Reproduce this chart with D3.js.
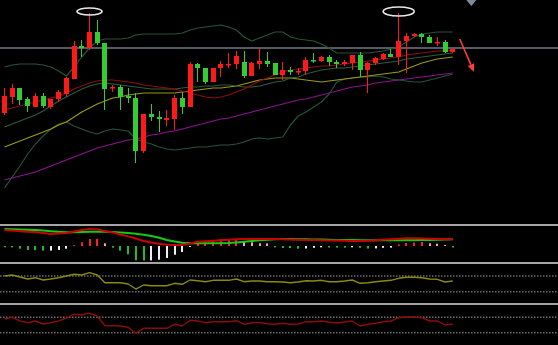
<!DOCTYPE html>
<html><head><meta charset="utf-8">
<script src="https://cdn.jsdelivr.net/npm/d3@7"></script>
<style>html,body{margin:0;padding:0;background:#000;overflow:hidden}svg{display:block}</style>
</head><body>
<svg id="chart" width="558" height="345"></svg>
<script>
// ---------- DATA ----------
const opens  = [107,123,132,121,113,124,113,121,126,141, 174,172,188,177,131.5,133,124,122,69,106, 103,100,101,122,113,156,152,138,152,155, 156,158,144,156,159,157,145,150,148,149, 160,159,163,158,156,157,165,150,157,161, 166,163,179,184,186,183,177,178,168];
const highs  = [132,136,132,123,127,127,121,130,143,179, 180,207,200,177,135,135,132,127,106,116, 109,110,125,128,158,157,152,152,159,167, 169,169,158,172,168,157,158,153,152,163, 167,164,165,160,160,165,168,158,163,167, 171,207,187,187,187,185,183,180,172];
const lows   = [105,116,115,108,113,112,111,118,123,141, 163,170,175,110,128,110,117,57,67,99, 88,94,90,106,113,138,136,138,143,152, 151,142,144,151,153,145,140,145,145,145, 157,158,154,152,154,150,143,127,155,160, 163,155,147,183,177,177,174,167,167];
const closes = [124,132,120,114,124,114,121,128,142,174, 172,188,177,131,133,123,122,69,106,103, 101,102,122,113,156,152,138,152,156,156, 164,144,157,159,156,145,150,148,149,160, 159,163,158,156,158,165,150,157,162,166, 163,179,184,186,183,177,178,168,171];

const bollUpper = [153,155,156,156,156,155,153,149,144,153, 163,172,179,181,181,181,182,185,186,186, 186,186,186,187,190,192,193,194,195,193, 190,183,179,182,185,188,188,183,181,180, 179,176,172,167,167,167,167,167,168,169, 171,173,178,183,186,187,188,188,188];
const bollMid   = [93,96,99,102,105,109,114,119,123,127, 131,134,136,137,136,135,134,133,132,131, 131,131,131,132,133,133,134,134,135,135, 134,133,133,134,136,138,139,142,143,146, 148,150,151,152,152,153,154,155,156,157, 158,159,161,162,163,164,165,166,167];
const bollLower = [32,43,54,66,76,84,91,96,98,94, 91,88,86,89,91,90,89,81,78,76, 73,71,70,71,72,73,73,74,75,75, 76,78,81,82,81,82,83,95,104,108, 113,118,126,138,141,142,143,143,144,143, 141,140,139,138,138,140,142,144,146];
const maRed     = [110,112,114,116,118,120,122,124,127,131, 134,137,139,140,140,139,138,137,135,134, 133,132,131,129,127,125,123,122,123,125, 128,131,135,139,142,145,148,150,151,152, 153,154,154,155,156,157,158,159,160,161, 162,163,165,166,167,168,169,169,170];
const maYellow  = [73,76,79,82,85,88,91,95,98,103, 108,112,116,119,122,123,125,126,127,127, 127,127,127,128,129,130,131,132,132,133, 134,136,138,140,141,142,142,142,141,140, 139,138,139,140,141,142,143,144,145,146, 147,148,151,154,157,159,161,162,163];
const maPurple  = [40,42,44,46,48,51,54,57,60,63, 66,69,72,74,76,78,80,81,83,85, 86,88,89,91,93,95,97,99,101,102, 104,106,108,110,112,114,116,118,120,121, 123,125,127,129,131,133,134,135,137,138, 139,140,141,142,143,144,145,146,147];
const priceLevel = [172];

const macdHist = [-1.3,-1.4,-2.7,-4,-4.2,-4.7,-4.6,-4,-2.7,0.8, 3.7,7,7.1,2.7,-1.7,-4.7,-8.3,-14.3,-14.5,-14.4, -13.7,-12,-8.7,-6,-1,3.7,4.3,5,6.7,7, 7.1,4.3,3.7,2.7,2.6,-1.3,-2,-2.1,-2.7,-2.5, -1.8,-1.3,-1.5,-1.6,-1.7,-1.3,-1.8,-2.5,-2.4,-1.8, -1.6,1.5,3,3.4,4,2.7,2.3,1,-1.5];
const macdDif  = [16,15.4,14.8,14.3,14,13,12,12.4,13,14.5, 16,17,16.5,15,13.5,11.5,9.6,7.5,5,3.5, 2.2,1.2,1,1,2.5,4.3,4.8,5.3,5.8,6.3, 6.7,6.9,7,7,7,6.9,6.8,6.6,6.3,6, 5.9,5.8,5.6,5.4,5.2,5,5,5.3,5.7,6.2, 6.8,7.3,7.7,7.7,7.6,7.3,7,6.8,6.7];
const macdDea  = [17,16.7,16.4,16.2,15.9,15.4,14.8,14.2,13.8,13.8, 14,14.2,14.3,14.2,13.9,13.5,13.1,12.2,11.2,10, 8.2,6,4.5,3.3,2.8,2.7,2.7,2.7,2.8,3, 3.6,4.3,5,5.7,6.3,6.8,7,6.9,6.8,6.7, 6.5,6.4,6.3,6.1,6,5.9,5.8,5.8,5.7,5.7, 5.7,5.7,5.7,5.8,5.9,6.1,6.3,6.5,6.7];

const osc1 = [80,83.8,76.2,68.5,73.5,64.7,68.5,73.5,80,86.5, 83.8,92.6,83.8,54.4,54.4,54.4,49.4,30.3,45.6,42.9, 42.9,42.9,52.1,48.3,64.7,62,58.2,63.5,63.5,63.5, 68.5,58.2,60.9,60.9,58.2,58.2,57.1,54.4,57.1,62, 60.9,63.5,58.2,58.2,60.9,64.7,52.1,54.4,58.2,60.9, 63.5,71.2,75,75,73.5,68.5,67.4,57.1,60.9];
const osc2 = [73.4,80,65.6,59,65.6,53.9,59,65.6,77.3,91.7, 89,95.6,85.1,47.3,47.3,46.1,41,17.7,37.1,37.1, 37.1,37.1,52.7,46.1,68.3,65.6,59,62.9,62.9,62.9, 66.8,52.7,59,59.7,55.1,52.7,56.6,52.7,53.9,62.9, 62.9,65.6,60.5,57.8,61.7,65.6,46.1,52.7,56.6,62.9, 65.6,78.4,81.2,82.3,78.4,65.6,65.6,50,53.9];
const oscLevels = [80, 20];

const markedCandles = [11, 51];
const arrowFrom = [58.9, 181];
const arrowTo   = [60.75, 148];

// ---------- DRAW ----------
const W = 558, H = 345;
const svg = d3.select("#chart");
svg.append("rect").attr("width", W).attr("height", H).attr("fill", "#000");

const n = closes.length;
const x = d3.scaleLinear().domain([0, n - 1]).range([4.5, 452.8]);
const y = d3.scaleLinear().domain([0, 200]).range([220, 20]);
const yMacd = d3.scaleLinear().domain([-20, 20]).range([266, 226]);
const yO1 = d3.scaleLinear().domain([20, 80]).range([291.7, 276]);
const yO2 = d3.scaleLinear().domain([20, 80]).range([332.7, 317.3]);

const UP = "#ff1a1a", DOWN = "#33cc33";

// price level line
svg.append("line").attr("x1", 0).attr("x2", W)
  .attr("y1", y(priceLevel[0])).attr("y2", y(priceLevel[0]))
  .attr("stroke", "#555b66").attr("stroke-width", 2);

// overlays
function drawLine(data, yS, color, w) {
  const line = d3.line().x((d, i) => x(i)).y(d => yS(d));
  svg.append("path").datum(data).attr("d", line)
    .attr("fill", "none").attr("stroke", color).attr("stroke-width", w)
    .attr("stroke-linejoin", "round");
}
drawLine(maPurple, y, "#8e108e", 1.2);
drawLine(bollLower, y, "#245438", 1.2);
drawLine(bollUpper, y, "#245438", 1.2);
drawLine(maYellow, y, "#9a9a12", 1.2);
drawLine(bollMid, y, "#2a5c40", 1.2);
drawLine(maRed, y, "#900c0c", 1.2);

// candles
const candles = svg.append("g");
d3.range(n).forEach(i => {
  const up = closes[i] >= opens[i];
  const col = up ? UP : DOWN;
  const x0 = Math.round(x(i) - 2.5);
  const cx = x0 + 2.5;
  candles.append("line").attr("x1", cx).attr("x2", cx)
    .attr("y1", y(highs[i])).attr("y2", y(lows[i]))
    .attr("stroke", col).attr("stroke-width", 1);
  const top = y(Math.max(opens[i], closes[i]));
  const bot = y(Math.min(opens[i], closes[i]));
  candles.append("rect").attr("x", x0).attr("width", 5)
    .attr("y", top).attr("height", Math.max(1.5, bot - top))
    .attr("fill", col);
});

// annotations: ellipses over marked highs
const ellSize = [[12.5, 3.5], [15.5, 4.5]];
markedCandles.forEach((i, k) => {
  svg.append("ellipse").attr("cx", x(i)).attr("cy", y(highs[i]) - 1.5)
    .attr("rx", ellSize[k][0]).attr("ry", ellSize[k][1])
    .attr("fill", "none").attr("stroke", "#e8e8e8").attr("stroke-width", 1.6);
});

// red arrow
const ax1 = x(arrowFrom[0]), ay1 = y(arrowFrom[1]);
const ax2 = x(arrowTo[0]), ay2 = y(arrowTo[1]);
const ang = Math.atan2(ay2 - ay1, ax2 - ax1);
const hl = 8, hw = 3.5;
const bx = ax2 - hl * Math.cos(ang), by = ay2 - hl * Math.sin(ang);
svg.append("line").attr("x1", ax1).attr("y1", ay1).attr("x2", bx).attr("y2", by)
  .attr("stroke", "#ff3b3b").attr("stroke-width", 1.6);
svg.append("path").attr("d", `M${ax2},${ay2}L${bx - hw * Math.sin(ang)},${by + hw * Math.cos(ang)}L${bx + hw * Math.sin(ang)},${by - hw * Math.cos(ang)}Z`)
  .attr("fill", "#ff3b3b");

// small marker triangle at top
const tx = x(60.4);
svg.append("path").attr("d", `M${tx - 5},0L${tx + 5},0L${tx},6Z`).attr("fill", "#7f8b99");

// panel separators
[225, 263, 304].forEach(sy => {
  svg.append("line").attr("x1", 0).attr("x2", W).attr("y1", sy).attr("y2", sy)
    .attr("stroke", "#a4a4a4").attr("stroke-width", 2);
});

// MACD histogram
d3.range(n).forEach(i => {
  const v = macdHist[i], p = i > 0 ? macdHist[i - 1] : v;
  let col;
  if (v >= 0) col = v >= p ? "#ff2020" : "#f2a6a6";
  else col = v <= p ? "#22bb22" : "#f0f0f0";
  const y0 = yMacd(0), y1 = yMacd(v);
  svg.append("rect").attr("x", Math.round(x(i)) - 1).attr("width", 2)
    .attr("y", Math.min(y0, y1)).attr("height", Math.max(1, Math.abs(y1 - y0)))
    .attr("fill", col);
});
drawLine(macdDea, yMacd, "#11cc11", 2);
drawLine(macdDif, yMacd, "#cc0000", 2);

// oscillator panels
oscLevels.forEach(l => {
  [yO1, yO2].forEach(s => {
    svg.append("line").attr("x1", 0).attr("x2", W).attr("y1", s(l)).attr("y2", s(l))
      .attr("stroke", "#6c6c6c").attr("stroke-width", 1.4).attr("stroke-dasharray", "1.5,1.5");
  });
});
drawLine(osc1, yO1, "#8a8a10", 1.4);
drawLine(osc2, yO2, "#8b0c0c", 1.4);
</script>
</body></html>
